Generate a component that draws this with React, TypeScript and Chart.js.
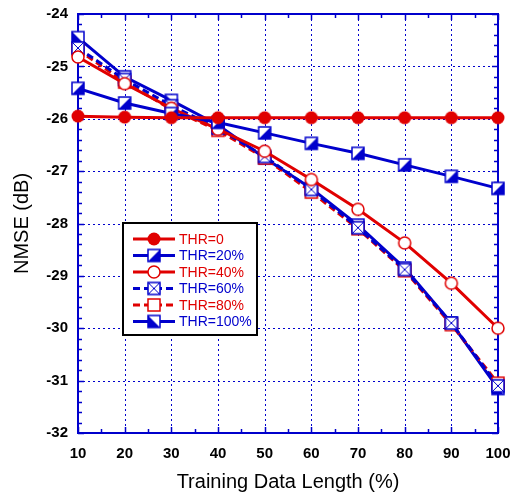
import { useEffect, useRef } from "react";
import { Chart, registerables } from "chart.js";

Chart.register(...registerables);

// Training data length (%) on the x axis
const lengths = [10, 20, 30, 40, 50, 60, 70, 80, 90, 100];

// NMSE (dB) for each pruning threshold
const thr0 = [-25.95, -25.97, -25.98, -25.98, -25.98, -25.98, -25.98, -25.98, -25.98, -25.98];
const thr20 = [-25.42, -25.7, -25.9, -26.07, -26.27, -26.47, -26.66, -26.88, -27.1, -27.33];
const thr40 = [-24.82, -25.33, -25.8, -26.2, -26.62, -27.16, -27.73, -28.37, -29.14, -30.0];
const thr60 = [-24.65, -25.25, -25.75, -26.18, -26.72, -27.35, -28.08, -28.88, -29.9, -31.1];
const thr80 = [-24.68, -25.3, -25.82, -26.22, -26.75, -27.4, -28.1, -28.9, -29.93, -31.05];
const thr100 = [-24.45, -25.2, -25.65, -26.12, -26.75, -27.33, -28.03, -28.85, -29.9, -31.15];

const seriesLabels = ["THR=0", "THR=20%", "THR=40%", "THR=60%", "THR=80%", "THR=100%"];

const RED = "#e00000";
const BLUE = "#0000cc";
const FONT = "'Liberation Sans', Arial, sans-serif";

type MarkerKind = "filledCircle" | "openCircle" | "openSquare" | "crossSquare" | "halfLR" | "halfLL";

function makeMarker(kind: MarkerKind, color: string): HTMLCanvasElement {
  const c = document.createElement("canvas");
  c.width = 16;
  c.height = 16;
  const g = c.getContext("2d")!;
  const m = 8;
  const h = 6;
  g.lineWidth = 1.5;
  g.strokeStyle = color;
  if (kind === "filledCircle") {
    g.beginPath();
    g.arc(m, m, 6.5, 0, Math.PI * 2);
    g.fillStyle = color;
    g.fill();
  } else if (kind === "openCircle") {
    g.beginPath();
    g.arc(m, m, 6, 0, Math.PI * 2);
    g.fillStyle = "#fff";
    g.fill();
    g.stroke();
  } else {
    const l = m - h, r = m + h, t = m - h, b = m + h;
    g.fillStyle = "#fff";
    g.fillRect(l, t, 2 * h, 2 * h);
    g.fillStyle = color;
    if (kind === "halfLR") {
      g.beginPath();
      g.moveTo(r, t);
      g.lineTo(r, b);
      g.lineTo(l, b);
      g.closePath();
      g.fill();
    } else if (kind === "halfLL") {
      g.beginPath();
      g.moveTo(l, t);
      g.lineTo(r, b);
      g.lineTo(l, b);
      g.closePath();
      g.fill();
    } else if (kind === "crossSquare") {
      g.beginPath();
      g.moveTo(l, t);
      g.lineTo(r, b);
      g.moveTo(r, t);
      g.lineTo(l, b);
      g.lineWidth = 1;
      g.stroke();
      g.lineWidth = 1.5;
    }
    g.strokeRect(l, t, 2 * h, 2 * h);
  }
  return c;
}

// Dotted grid, blue frame and inward ticks on all four sides
const framePlugin = {
  id: "frame",
  beforeDatasetsDraw(chart: any) {
    const { ctx, chartArea: a, scales } = chart;
    const xs = scales.x;
    const ys = scales.y;
    ctx.save();
    ctx.strokeStyle = BLUE;
    ctx.lineWidth = 1;
    ctx.setLineDash([2, 3]);
    for (let v = 20; v < 100; v += 10) {
      const px = Math.round(xs.getPixelForValue(v)) + 0.5;
      ctx.beginPath();
      ctx.moveTo(px, a.top);
      ctx.lineTo(px, a.bottom);
      ctx.stroke();
    }
    for (let v = -31; v < -24; v += 1) {
      const py = Math.round(ys.getPixelForValue(v)) + 0.5;
      ctx.beginPath();
      ctx.moveTo(a.left, py);
      ctx.lineTo(a.right, py);
      ctx.stroke();
    }
    ctx.setLineDash([]);
    ctx.lineWidth = 1.5;
    for (let v = 10; v <= 100; v += 5) {
      const px = Math.round(xs.getPixelForValue(v)) + 0.5;
      const len = v % 10 === 0 ? 6 : 4;
      ctx.beginPath();
      ctx.moveTo(px, a.bottom);
      ctx.lineTo(px, a.bottom - len);
      ctx.moveTo(px, a.top);
      ctx.lineTo(px, a.top + len);
      ctx.stroke();
    }
    for (let i = 0; i <= 40; i++) {
      const v = -32 + i * 0.2;
      const py = Math.round(ys.getPixelForValue(v)) + 0.5;
      const len = i % 5 === 0 ? 6 : 4;
      ctx.beginPath();
      ctx.moveTo(a.left, py);
      ctx.lineTo(a.left + len, py);
      ctx.moveTo(a.right, py);
      ctx.lineTo(a.right - len, py);
      ctx.stroke();
    }
    ctx.lineWidth = 2;
    ctx.strokeRect(a.left, a.top, a.right - a.left, a.bottom - a.top);
    ctx.restore();
  },
};

// Boxed legend with line, marker and coloured text
const legendPlugin = {
  id: "boxLegend",
  afterDraw(chart: any) {
    const { ctx, chartArea: a } = chart;
    const x0 = a.left + 45;
    const y0 = a.top + 209;
    const w = 134;
    const rowH = 16.5;
    const n = chart.data.datasets.length;
    const hgt = rowH * n + 13;
    ctx.save();
    ctx.fillStyle = "#fff";
    ctx.fillRect(x0, y0, w, hgt);
    ctx.strokeStyle = "#000";
    ctx.lineWidth = 2;
    ctx.strokeRect(x0, y0, w, hgt);
    chart.data.datasets.forEach((ds: any, i: number) => {
      const cy = y0 + 16 + i * rowH;
      ctx.strokeStyle = ds.borderColor;
      ctx.lineWidth = 3;
      ctx.setLineDash(ds.borderDash || []);
      ctx.beginPath();
      ctx.moveTo(x0 + 10, cy);
      ctx.lineTo(x0 + 52, cy);
      ctx.stroke();
      ctx.setLineDash([]);
      const img = ds.pointStyle as HTMLCanvasElement;
      ctx.drawImage(img, x0 + 31 - img.width / 2, cy - img.height / 2);
      ctx.fillStyle = ds.borderColor;
      ctx.font = `14px ${FONT}`;
      ctx.textBaseline = "middle";
      ctx.textAlign = "left";
      ctx.fillText(ds.label, x0 + 56, cy + 1);
    });
    ctx.restore();
  },
};

export default function App() {
  const ref = useRef<HTMLCanvasElement>(null);

  useEffect(() => {
    if (!ref.current) return;
    const values = [thr0, thr20, thr40, thr60, thr80, thr100];
    const colors = [RED, BLUE, RED, BLUE, RED, BLUE];
    const markers: MarkerKind[] = ["filledCircle", "halfLR", "openCircle", "crossSquare", "openSquare", "halfLL"];
    const dashed = [false, false, false, true, true, false];

    const datasets = values.map((vals, i) => ({
      label: seriesLabels[i],
      data: lengths.map((x, j) => ({ x, y: vals[j] })),
      borderColor: colors[i],
      backgroundColor: colors[i],
      borderWidth: 3,
      borderDash: dashed[i] ? [7, 4] : [],
      pointStyle: makeMarker(markers[i], colors[i]),
      pointRadius: 6,
      tension: 0,
      clip: false as const,
    }));

    const chart = new Chart(ref.current, {
      type: "line",
      data: { datasets },
      options: {
        animation: false,
        responsive: false,
        layout: { padding: { top: 14, right: 16, left: 0, bottom: 0 } },
        plugins: { legend: { display: false }, tooltip: { enabled: false } },
        scales: {
          x: {
            type: "linear",
            min: 10,
            max: 100,
            grid: { display: false, drawTicks: false },
            border: { display: false },
            ticks: {
              stepSize: 10,
              padding: 12,
              color: "#000",
              font: { family: FONT, size: 15, weight: "bold" },
            },
            title: {
              display: true,
              text: "Training Data Length (%)",
              color: "#000",
              font: { family: FONT, size: 20 },
              padding: { top: 4, bottom: 1 },
            },
            afterFit: (s: any) => {
              s.height = 62;
              s.paddingLeft = 0;
              s.paddingRight = 0;
            },
          },
          y: {
            min: -32,
            max: -24,
            grid: { display: false, drawTicks: false },
            border: { display: false },
            ticks: {
              stepSize: 1,
              padding: 10,
              color: "#000",
              font: { family: FONT, size: 15, weight: "bold" },
            },
            title: {
              display: true,
              text: "NMSE (dB)",
              color: "#000",
              font: { family: FONT, size: 20 },
              padding: { top: 10, bottom: 4 },
            },
            afterFit: (s: any) => {
              s.width = 78;
              s.paddingTop = 0;
              s.paddingBottom = 0;
            },
          },
        },
      },
      plugins: [framePlugin, legendPlugin],
    } as any);

    return () => chart.destroy();
  }, []);

  return (
    <div style={{ position: "absolute", left: 0, top: 0, width: 514, height: 495, background: "#fff" }}>
      <canvas ref={ref} width={514} height={495} style={{ width: 514, height: 495 }} />
    </div>
  );
}
